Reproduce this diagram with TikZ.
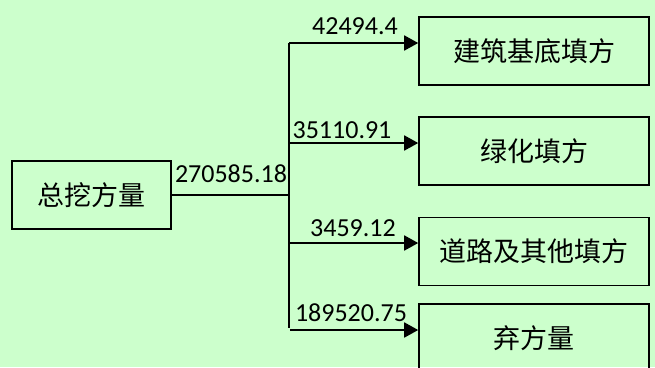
\documentclass[tikz,border=0pt]{standalone}
\usepackage{fontspec}
\setmainfont{Carlito}
\newfontfamily\cjk{Noto Sans CJK SC}
\usetikzlibrary{arrows.meta}
\definecolor{bg}{HTML}{CCFFCC}
\begin{document}
\begin{tikzpicture}[x=1pt,y=-1pt,
  box/.style={draw=black, line width=1.6pt, minimum height=68pt, inner sep=0pt, font=\cjk\fontsize{27}{30}\selectfont},
  num/.style={inner sep=0pt, font=\fontsize{26}{28}\selectfont},
  conn/.style={line width=1.8pt},
  arr/.style={conn, -{Triangle[length=14pt,width=15pt]}}]
\fill[bg] (0,0) rectangle (655,367);
\useasboundingbox (0,0) rectangle (655,367);
\node[box, minimum width=159pt] (src) at (91.5,195) {总挖方量};
\node[box, minimum width=230pt] (b1) at (534,51) {建筑基底填方};
\node[box, minimum width=230pt] (b2) at (534,151) {绿化填方};
\node[box, minimum width=230pt] (b3) at (534,251.5) {道路及其他填方};
\node[box, minimum width=230pt] (b4) at (534,338) {弃方量};
\coordinate (j) at (289,195);
\coordinate (jt) at (289,43);
\coordinate (jb) at (289,328);
\draw[conn] (src.east |- j) -- (j);
\draw[conn] (jt) -- (jb);
\draw[arr] (jt) -- (b1.west |- jt);
\draw[arr] (289,143) coordinate (j2) -- (b2.west |- j2);
\draw[arr] (289,243) coordinate (j3) -- (b3.west |- j3);
\draw[arr] (290,330) coordinate (j4) -- (b4.west |- j4);
\node[num] (n0) at (231,174) {270585.18};
\node[num] (n1) at (355,26) {42494.4};
\node[num] (n2) at (342,130) {35110.91};
\node[num] (n3) at (353,228) {3459.12};
\node[num] (n4) at (351,313) {189520.75};
\end{tikzpicture}
\end{document}
